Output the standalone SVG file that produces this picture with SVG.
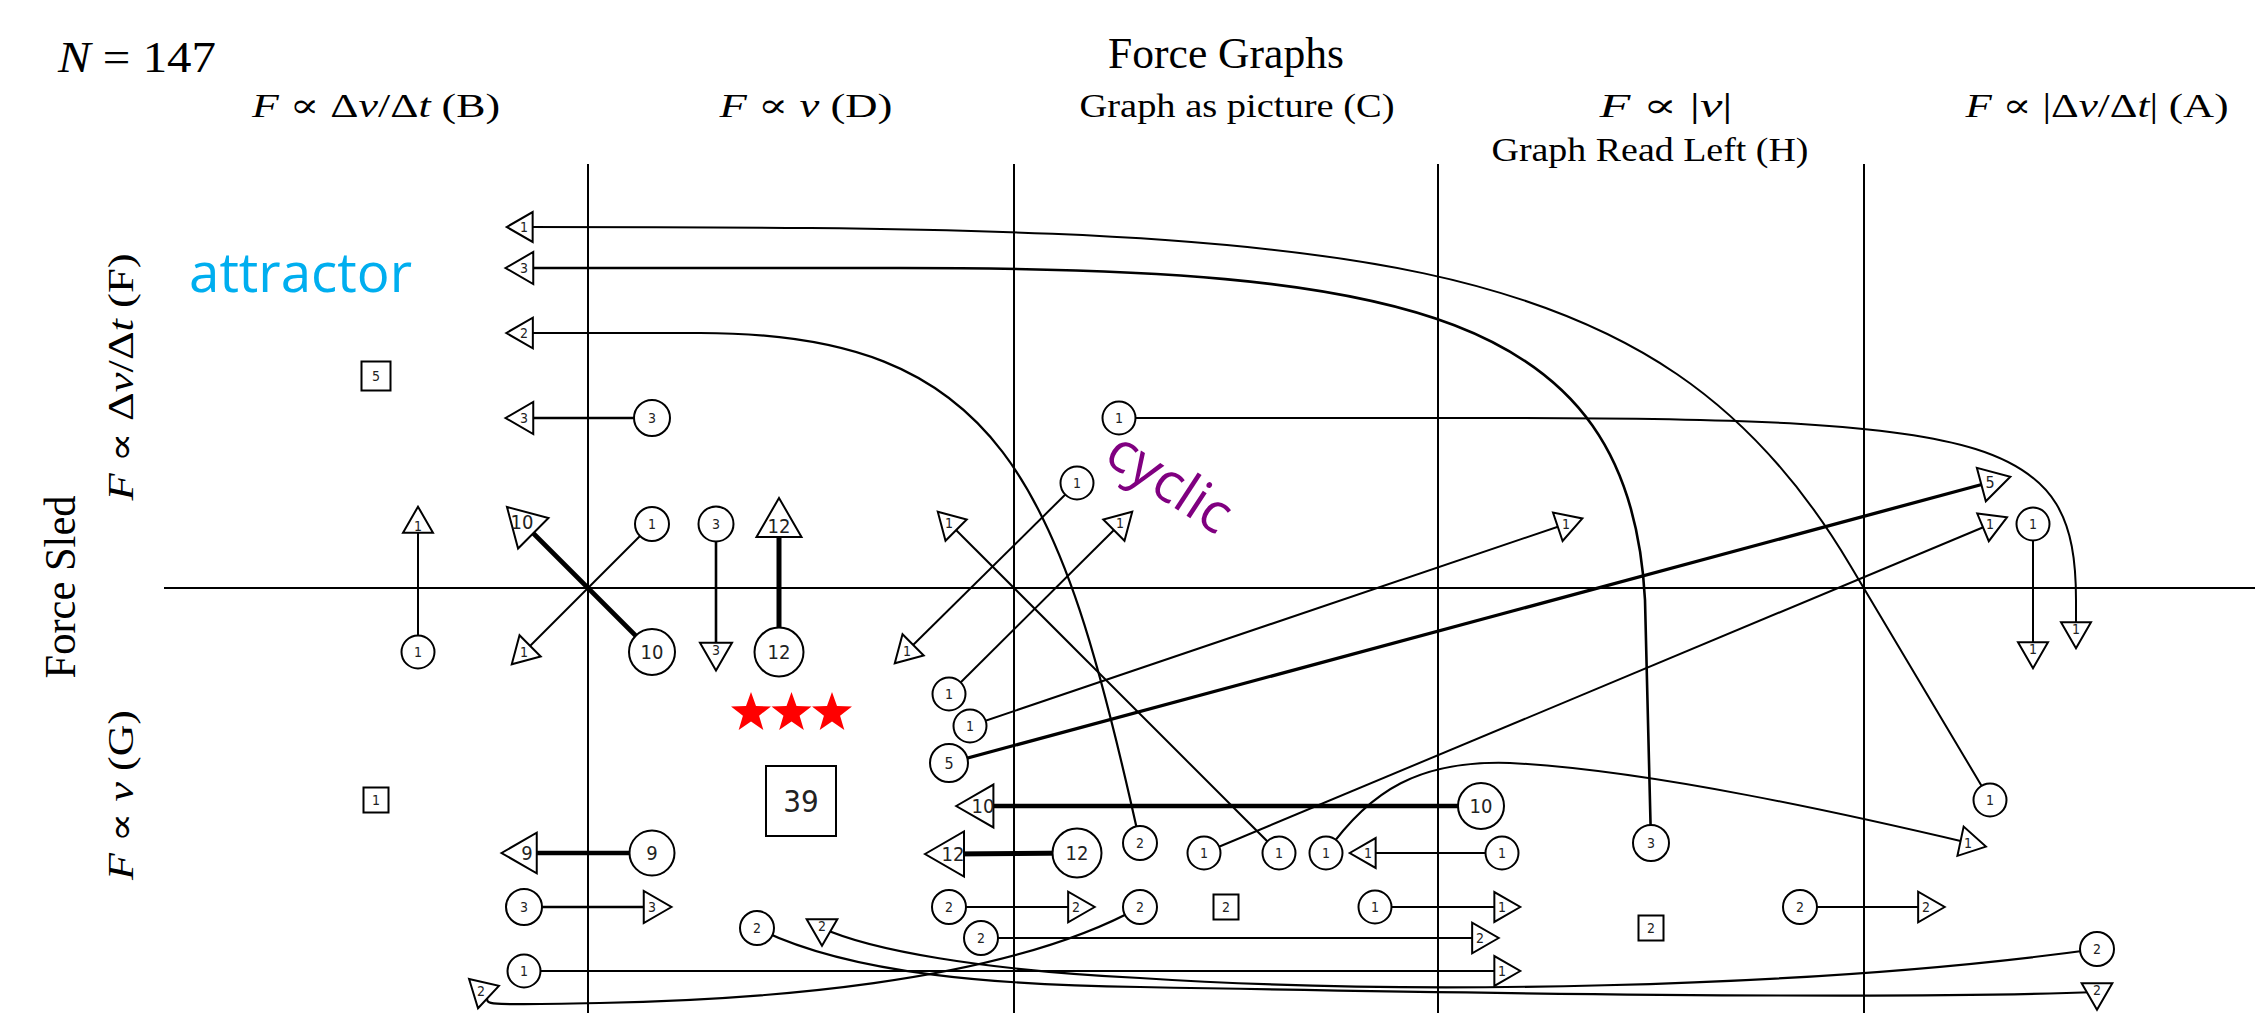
<svg xmlns="http://www.w3.org/2000/svg" xmlns:xlink="http://www.w3.org/1999/xlink" width="2255" height="1019" viewBox="0 0 2255 1019">
<style>
.ax{stroke:#000;stroke-width:2;fill:none}
.e{fill:none;stroke:#000;stroke-linecap:butt}
.w1{stroke-width:2}.w2{stroke-width:2.2}.w3{stroke-width:2.6}.w5{stroke-width:3.3}.w9{stroke-width:4.3}.w10{stroke-width:4.6}.w12{stroke-width:5}
.nd{fill:#fff;stroke:#000;stroke-width:2}
.lb{font-family:"DejaVu Sans Condensed","Liberation Sans Narrow","Liberation Sans",sans-serif;font-stretch:condensed;text-anchor:middle;dominant-baseline:central;fill:#222}
.s{font-size:14px}.m{font-size:16px}.l{font-size:20px}
.hd{font-family:"Liberation Serif","DejaVu Serif",serif;fill:#000}
.it{font-style:italic}
.star{fill:#f00}
</style>
<defs>
<polygon id="t1" points="17.3,0 -8.65,14.98 -8.65,-14.98"/>
<polygon id="t2" points="17.7,0 -8.85,15.33 -8.85,-15.33"/>
<polygon id="t3" points="18.5,0 -9.25,16.02 -9.25,-16.02"/>
<polygon id="t5" points="20,0 -10,17.32 -10,-17.32"/>
<polygon id="t9" points="23.5,0 -11.75,20.35 -11.75,-20.35"/>
<polygon id="t10" points="24.8,0 -12.4,21.48 -12.4,-21.48"/>
<polygon id="t12" points="26,0 -13,22.52 -13,-22.52"/>
<polygon id="st" points="0,-21 5,-6.88 19.97,-6.49 8.08,2.63 12.34,16.99 0,8.5 -12.34,16.99 -8.08,2.63 -19.97,-6.49 -5,-6.88"/>
</defs>

<g id="titles">
<text class="hd" x="58" y="72" font-size="44" textLength="158" lengthAdjust="spacingAndGlyphs"><tspan class="it">N</tspan> = 147</text>
<text class="hd" x="1226" y="68" font-size="44" text-anchor="middle" textLength="236" lengthAdjust="spacingAndGlyphs">Force Graphs</text>
<text class="hd" x="376" y="117" font-size="34" text-anchor="middle" textLength="248" lengthAdjust="spacingAndGlyphs"><tspan class="it">F</tspan> ∝ Δ<tspan class="it">v</tspan>/Δ<tspan class="it">t</tspan> (B)</text>
<text class="hd" x="806" y="117" font-size="34" text-anchor="middle" textLength="173" lengthAdjust="spacingAndGlyphs"><tspan class="it">F</tspan> ∝ <tspan class="it">v</tspan> (D)</text>
<text class="hd" x="1237" y="117" font-size="34" text-anchor="middle" textLength="315" lengthAdjust="spacingAndGlyphs">Graph as picture (C)</text>
<text class="hd" x="1666" y="117" font-size="34" text-anchor="middle" textLength="133" lengthAdjust="spacingAndGlyphs"><tspan class="it">F</tspan> ∝ |<tspan class="it">v</tspan>|</text>
<text class="hd" x="1650" y="161" font-size="34" text-anchor="middle" textLength="317" lengthAdjust="spacingAndGlyphs">Graph Read Left (H)</text>
<text class="hd" x="2097" y="117" font-size="34" text-anchor="middle" textLength="263" lengthAdjust="spacingAndGlyphs"><tspan class="it">F</tspan> ∝ |Δ<tspan class="it">v</tspan>/Δ<tspan class="it">t</tspan>| (A)</text>
<text class="hd" transform="translate(75,587) rotate(-90)" font-size="44" text-anchor="middle" textLength="183" lengthAdjust="spacingAndGlyphs">Force Sled</text>
<text class="hd" transform="translate(133,377) rotate(-90)" font-size="35" text-anchor="middle" textLength="247" lengthAdjust="spacingAndGlyphs"><tspan class="it">F</tspan> ∝ Δ<tspan class="it">v</tspan>/Δ<tspan class="it">t</tspan> (F)</text>
<text class="hd" transform="translate(133,795) rotate(-90)" font-size="35" text-anchor="middle" textLength="170" lengthAdjust="spacingAndGlyphs"><tspan class="it">F</tspan> ∝ <tspan class="it">v</tspan> (G)</text>
<text x="189" y="292" font-family="'Open Sans','Noto Sans',sans-serif" font-size="54" fill="#00AEEF" textLength="223" lengthAdjust="spacingAndGlyphs">attractor</text>
<text transform="translate(1102,461) rotate(33)" font-family="'Open Sans','Noto Sans',sans-serif" font-size="56" fill="#800080">cyclic</text>
</g>

<g id="axes">
<line class="ax" x1="164" y1="588" x2="2255" y2="588"/>
<line class="ax" x1="588" y1="164" x2="588" y2="1013"/>
<line class="ax" x1="1014" y1="164" x2="1014" y2="1013"/>
<line class="ax" x1="1438" y1="164" x2="1438" y2="1013"/>
<line class="ax" x1="1864" y1="164" x2="1864" y2="1013"/>
</g>

<g id="connectors">
<path class="e w1" d="M524,227 C1350,227 1656,238 1850,565 L1990,800"/>
<path class="e w3" d="M524,268 L900,268 C1400,268 1630,310 1645,600 L1651,843"/>
<path class="e w2" d="M524,333 L700,333 C1000,333 1060,480 1140,843"/>
<path class="e w3" d="M524,418 L652,418"/>
<path class="e w1" d="M418,524 L418,652"/>
<path class="e w10" d="M524.5,524.5 L652,652"/>
<path class="e w1" d="M524,652 L652,524"/>
<path class="e w3" d="M716,524 L716,652"/>
<path class="e w12" d="M779,524 L779,652"/>
<path class="e w1" d="M950,524 L1279,853"/>
<path class="e w1" d="M907,651 L1077,483"/>
<path class="e w1" d="M1120,524 L949,694"/>
<path class="e w1" d="M1119,418 L1500,418 C2000,418 2076,440 2076,600 L2076,631"/>
<path class="e w5" d="M949,763 L1991,482"/>
<path class="e w1" d="M1204,853 L1991,524"/>
<path class="e w1" d="M970,726 L1566,524"/>
<path class="e w1" d="M2033,524 L2033,651"/>
<path class="e w10" d="M981,806 L1481,806"/>
<path class="e w12" d="M951,854 L1077,853"/>
<path class="e w9" d="M525,853 L652,853"/>
<path class="e w3" d="M524,907 L653,907"/>
<path class="e w1" d="M524,971 L1503,971"/>
<path class="e w2" d="M1140,907 C1000,985 750,1000 600,1003 S500,1004 482,991"/>
<path class="e w2" d="M949,907 L1077,907"/>
<path class="e w2" d="M981,938 L1481,938"/>
<path class="e w1" d="M1367,853 L1502,853"/>
<path class="e w1" d="M1375,907 L1503,907"/>
<path class="e w1" d="M1326,853 C1370,790 1420,760 1510,763 C1650,770 1850,815 1969,843"/>
<path class="e w2" d="M1800,907 L1927,907"/>
<path class="e w2" d="M2097,949 C1800,990 1400,995 1140,978 C980,970 870,950 822,928"/>
<path class="e w2" d="M757,928 C850,975 1000,985 1140,987 C1450,993 1900,1000 2097,992"/>
</g>

<g id="stars">
<use xlink:href="#st" class="star" x="751" y="713"/>
<use xlink:href="#st" class="star" x="791.5" y="713"/>
<use xlink:href="#st" class="star" x="832" y="713"/>
</g>

<g id="nodes">
<g id="n_t1a"><use xlink:href="#t1" class="nd" transform="translate(524,227) rotate(180)"/><text class="lb s" x="524" y="227">1</text></g>
<g id="n_t3a"><use xlink:href="#t3" class="nd" transform="translate(524,268) rotate(180)"/><text class="lb s" x="524" y="268">3</text></g>
<g id="n_t2a"><use xlink:href="#t2" class="nd" transform="translate(524,333) rotate(180)"/><text class="lb s" x="524" y="333">2</text></g>
<g id="n_s5"><rect class="nd" x="361.5" y="361.5" width="29" height="29"/><text class="lb s" x="376" y="376">5</text></g>
<g id="n_t3b"><use xlink:href="#t3" class="nd" transform="translate(524,418) rotate(180)"/><text class="lb s" x="524" y="418">3</text></g>
<g id="n_c3a"><circle class="nd" cx="652" cy="418" r="18"/><text class="lb s" x="652" y="418">3</text></g>
<g id="n_t1b"><use xlink:href="#t1" class="nd" transform="translate(418,524) rotate(-90)"/><text class="lb s" x="418" y="526">1</text></g>
<g id="n_c1a"><circle class="nd" cx="418" cy="652" r="16.5"/><text class="lb s" x="418" y="652">1</text></g>
<g id="n_t10a"><use xlink:href="#t10" class="nd" transform="translate(524.5,524.5) rotate(-135)"/><text class="lb l" x="522" y="522">10</text></g>
<g id="n_c10a"><circle class="nd" cx="652" cy="652" r="23"/><text class="lb l" x="652" y="652">10</text></g>
<g id="n_c1b"><circle class="nd" cx="652" cy="524" r="17"/><text class="lb s" x="652" y="524">1</text></g>
<g id="n_t1c"><use xlink:href="#t1" class="nd" transform="translate(524,652) rotate(135)"/><text class="lb s" x="524" y="652">1</text></g>
<g id="n_c3b"><circle class="nd" cx="716" cy="524" r="17.5"/><text class="lb s" x="716" y="524">3</text></g>
<g id="n_t3c"><use xlink:href="#t3" class="nd" transform="translate(716,652) rotate(90)"/><text class="lb s" x="716" y="650">3</text></g>
<g id="n_t12a"><use xlink:href="#t12" class="nd" transform="translate(779,524) rotate(-90)"/><text class="lb l" x="779" y="526">12</text></g>
<g id="n_c12a"><circle class="nd" cx="779" cy="652" r="24.5"/><text class="lb l" x="779" y="652">12</text></g>
<g id="n_s39"><rect class="nd" x="766" y="766" width="70" height="70"/><text class="lb" font-size="31" x="801" y="801">39</text></g>
<g id="n_s1"><rect class="nd" x="363.5" y="787.5" width="25" height="25"/><text class="lb s" x="376" y="800">1</text></g>
<g id="n_t9"><use xlink:href="#t9" class="nd" transform="translate(525,853) rotate(180)"/><text class="lb l" x="527" y="853">9</text></g>
<g id="n_c9"><circle class="nd" cx="652" cy="853" r="22.5"/><text class="lb l" x="652" y="853">9</text></g>
<g id="n_c3c"><circle class="nd" cx="524" cy="907" r="18"/><text class="lb s" x="524" y="907">3</text></g>
<g id="n_t3d"><use xlink:href="#t3" class="nd" transform="translate(653,907)"/><text class="lb s" x="652" y="907">3</text></g>
<g id="n_c1c"><circle class="nd" cx="524" cy="971" r="16.5"/><text class="lb s" x="524" y="971">1</text></g>
<g id="n_t1d"><use xlink:href="#t1" class="nd" transform="translate(1503,971)"/><text class="lb s" x="1502" y="971">1</text></g>
<g id="n_t2b"><use xlink:href="#t2" class="nd" transform="translate(482,991) rotate(-137)"/><text class="lb s" x="481" y="991">2</text></g>
<g id="n_c2a"><circle class="nd" cx="757" cy="928" r="17"/><text class="lb s" x="757" y="928">2</text></g>
<g id="n_t2c"><use xlink:href="#t2" class="nd" transform="translate(822,928) rotate(90)"/><text class="lb s" x="822" y="926">2</text></g>
<g id="n_t1e"><use xlink:href="#t1" class="nd" transform="translate(950,524) rotate(-135)"/><text class="lb s" x="949" y="523">1</text></g>
<g id="n_c1d"><circle class="nd" cx="1077" cy="483" r="16.5"/><text class="lb s" x="1077" y="483">1</text></g>
<g id="n_t1f"><use xlink:href="#t1" class="nd" transform="translate(907,651) rotate(135)"/><text class="lb s" x="907" y="651">1</text></g>
<g id="n_t1g"><use xlink:href="#t1" class="nd" transform="translate(1120,524) rotate(-45)"/><text class="lb s" x="1120" y="523">1</text></g>
<g id="n_c1e"><circle class="nd" cx="949" cy="694" r="16.5"/><text class="lb s" x="949" y="694">1</text></g>
<g id="n_c1f"><circle class="nd" cx="970" cy="726" r="16.5"/><text class="lb s" x="970" y="726">1</text></g>
<g id="n_c5"><circle class="nd" cx="949" cy="763" r="19"/><text class="lb m" x="949" y="763">5</text></g>
<g id="n_c1g"><circle class="nd" cx="1119" cy="418" r="16.5"/><text class="lb s" x="1119" y="418">1</text></g>
<g id="n_t10b"><use xlink:href="#t10" class="nd" transform="translate(981,806) rotate(180)"/><text class="lb l" x="983" y="806">10</text></g>
<g id="n_c10b"><circle class="nd" cx="1481" cy="806" r="23"/><text class="lb l" x="1481" y="806">10</text></g>
<g id="n_t12b"><use xlink:href="#t12" class="nd" transform="translate(951,854) rotate(180)"/><text class="lb l" x="953" y="854">12</text></g>
<g id="n_c12b"><circle class="nd" cx="1077" cy="853" r="24.5"/><text class="lb l" x="1077" y="853">12</text></g>
<g id="n_c2b"><circle class="nd" cx="1140" cy="843" r="17"/><text class="lb s" x="1140" y="843">2</text></g>
<g id="n_c1h"><circle class="nd" cx="1204" cy="853" r="16.5"/><text class="lb s" x="1204" y="853">1</text></g>
<g id="n_c1i"><circle class="nd" cx="1279" cy="853" r="16.5"/><text class="lb s" x="1279" y="853">1</text></g>
<g id="n_c1j"><circle class="nd" cx="1326" cy="853" r="16.5"/><text class="lb s" x="1326" y="853">1</text></g>
<g id="n_t1h"><use xlink:href="#t1" class="nd" transform="translate(1367,853) rotate(180)"/><text class="lb s" x="1368" y="853">1</text></g>
<g id="n_c1k"><circle class="nd" cx="1502" cy="853" r="16.5"/><text class="lb s" x="1502" y="853">1</text></g>
<g id="n_c2c"><circle class="nd" cx="949" cy="907" r="17"/><text class="lb s" x="949" y="907">2</text></g>
<g id="n_t2d"><use xlink:href="#t2" class="nd" transform="translate(1077,907)"/><text class="lb s" x="1076" y="907">2</text></g>
<g id="n_c2d"><circle class="nd" cx="1140" cy="907" r="17"/><text class="lb s" x="1140" y="907">2</text></g>
<g id="n_s2a"><rect class="nd" x="1213.5" y="894.5" width="25" height="25"/><text class="lb s" x="1226" y="907">2</text></g>
<g id="n_c1l"><circle class="nd" cx="1375" cy="907" r="16.5"/><text class="lb s" x="1375" y="907">1</text></g>
<g id="n_t1i"><use xlink:href="#t1" class="nd" transform="translate(1503,907)"/><text class="lb s" x="1502" y="907">1</text></g>
<g id="n_c2e"><circle class="nd" cx="981" cy="938" r="17"/><text class="lb s" x="981" y="938">2</text></g>
<g id="n_t2e"><use xlink:href="#t2" class="nd" transform="translate(1481,938)"/><text class="lb s" x="1480" y="938">2</text></g>
<g id="n_t1j"><use xlink:href="#t1" class="nd" transform="translate(1566,524) rotate(-18.7)"/><text class="lb s" x="1566" y="524">1</text></g>
<g id="n_c3d"><circle class="nd" cx="1651" cy="843" r="18"/><text class="lb s" x="1651" y="843">3</text></g>
<g id="n_s2b"><rect class="nd" x="1638.5" y="915.5" width="25" height="25"/><text class="lb s" x="1651" y="928">2</text></g>
<g id="n_c2f"><circle class="nd" cx="1800" cy="907" r="17"/><text class="lb s" x="1800" y="907">2</text></g>
<g id="n_t2f"><use xlink:href="#t2" class="nd" transform="translate(1927,907)"/><text class="lb s" x="1926" y="907">2</text></g>
<g id="n_t5"><use xlink:href="#t5" class="nd" transform="translate(1991,482) rotate(-15)"/><text class="lb m" x="1990" y="482">5</text></g>
<g id="n_t1k"><use xlink:href="#t1" class="nd" transform="translate(1991,524) rotate(-22.7)"/><text class="lb s" x="1990" y="524">1</text></g>
<g id="n_c1m"><circle class="nd" cx="2033" cy="524" r="16.5"/><text class="lb s" x="2033" y="524">1</text></g>
<g id="n_t1l"><use xlink:href="#t1" class="nd" transform="translate(2033,651) rotate(90)"/><text class="lb s" x="2033" y="649">1</text></g>
<g id="n_t1m"><use xlink:href="#t1" class="nd" transform="translate(2076,631) rotate(90)"/><text class="lb s" x="2076" y="629">1</text></g>
<g id="n_c1n"><circle class="nd" cx="1990" cy="800" r="16.5"/><text class="lb s" x="1990" y="800">1</text></g>
<g id="n_t1n"><use xlink:href="#t1" class="nd" transform="translate(1969,843) rotate(12)"/><text class="lb s" x="1968" y="843">1</text></g>
<g id="n_c2g"><circle class="nd" cx="2097" cy="949" r="17"/><text class="lb s" x="2097" y="949">2</text></g>
<g id="n_t2g"><use xlink:href="#t2" class="nd" transform="translate(2097,992) rotate(90)"/><text class="lb s" x="2097" y="990">2</text></g>
</g>
</svg>
